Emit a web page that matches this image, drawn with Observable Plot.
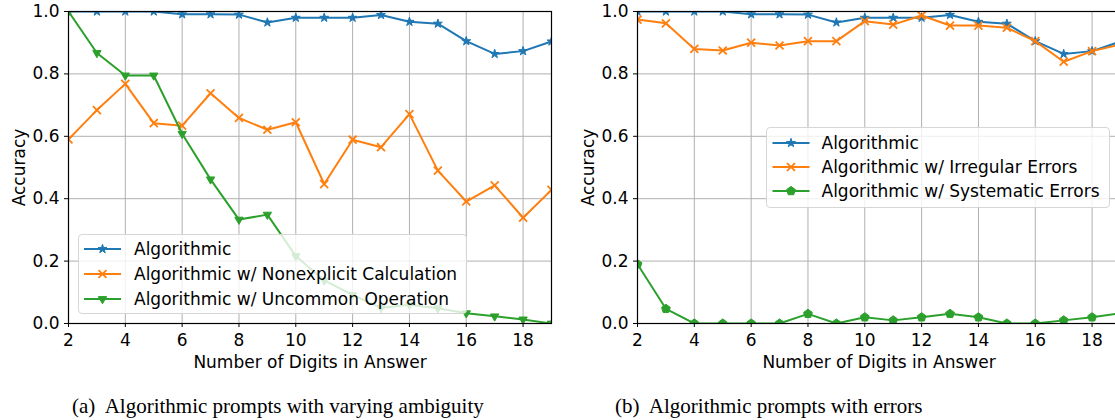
<!DOCTYPE html>
<html><head><meta charset="utf-8">
<script src="https://cdn.jsdelivr.net/npm/d3@7"></script>
<script src="https://cdn.jsdelivr.net/npm/@observablehq/plot@0.6"></script>
<style>
body{margin:0;width:1115px;height:420px;overflow:hidden;background:#fff;position:relative;font-family:"DejaVu Sans",sans-serif;}
.panel{position:absolute;top:0;width:560px;height:375px;}
.panel svg{max-width:none !important;}
.legend{position:absolute;background:rgba(255,255,255,0.8);border:1px solid #d6d6d6;border-radius:4px;font-size:17px;color:#000;box-sizing:border-box;}
.legend .row{position:absolute;left:0;height:24px;display:flex;align-items:center;white-space:nowrap;}
.legend svg{display:block;}
.caption{position:absolute;font-family:"Liberation Serif","Times New Roman",serif;font-size:21px;line-height:24px;white-space:pre;}
</style></head><body>
<div id="a" class="panel" style="left:0px"></div>
<div id="b" class="panel" style="left:569px"></div>
<script>
// ---- data ----
const digits = [2,3,4,5,6,7,8,9,10,11,12,13,14,15,16,17,18,19];
const xTicks = [2,4,6,8,10,12,14,16,18];
const yTicks = [0,0.2,0.4,0.6,0.8,1.0];
const algorithmic = [1.0,1.0,1.0,1.0,0.991,0.991,0.99,0.965,0.98,0.98,0.98,0.989,0.967,0.961,0.905,0.864,0.873,0.904];
const nonexplicit = [0.59,0.684,0.768,0.642,0.634,0.738,0.659,0.621,0.645,0.447,0.589,0.565,0.671,0.49,0.391,0.443,0.339,0.428];
const uncommon = [1.0,0.867,0.795,0.795,0.608,0.462,0.333,0.349,0.216,0.138,0.092,0.05,0.06,0.049,0.033,0.023,0.013,0.0];
const irregular = [0.974,0.962,0.88,0.875,0.9,0.891,0.905,0.905,0.969,0.958,0.987,0.955,0.955,0.948,0.905,0.839,0.873,0.894];
const systematic = [0.19,0.047,0,0,0,0,0.031,0,0.02,0.01,0.02,0.031,0.02,0,0,0.01,0.02,0.033];
const namesA = ["Algorithmic","Algorithmic w/ Nonexplicit Calculation","Algorithmic w/ Uncommon Operation"];
const namesB = ["Algorithmic","Algorithmic w/ Irregular Errors","Algorithmic w/ Systematic Errors"];
const captionA = "(a)  Algorithmic prompts with varying ambiguity";
const captionB = "(b)  Algorithmic prompts with errors";
const xLabel = "Number of Digits in Answer";
const yLabel = "Accuracy";

// ---- symbols ----
const triDown = {draw(ctx, size){ const r = Math.sqrt(size/Math.PI);
  ctx.moveTo(0, r); ctx.lineTo(-r*0.866, -r*0.5); ctx.lineTo(r*0.866, -r*0.5); ctx.closePath(); }};
const pentagon = {draw(ctx, size){ const r = Math.sqrt(size/Math.PI);
  for (let k=0;k<5;k++){ const a = -Math.PI/2 + k*2*Math.PI/5; const px=r*Math.cos(a), py=r*Math.sin(a);
    if(k===0) ctx.moveTo(px,py); else ctx.lineTo(px,py);} ctx.closePath(); }};
const blue="#1f77b4", orange="#ff7f0e", green="#2ca02c";
const styleA = [{color:blue, symbol:"star", r:2.8, fill:true},{color:orange, symbol:"times", r:3.7, fill:false},{color:green, symbol:triDown, r:4.8, fill:true}];
const styleB = [{color:blue, symbol:"star", r:2.8, fill:true},{color:orange, symbol:"times", r:3.7, fill:false},{color:green, symbol:pentagon, r:4.6, fill:true}];

function panel(seriesValues, names, styles, width){
  const marks = [
    Plot.gridX(xTicks, {stroke:"#b0b0b0", strokeOpacity:1, strokeWidth:1}),
    Plot.gridY(yTicks, {stroke:"#b0b0b0", strokeOpacity:1, strokeWidth:1})
  ];
  seriesValues.forEach((vals, si) => {
    const data = digits.map((d,i)=>({x:d, y:vals[i], name:names[si]}));
    const s = styles[si];
    marks.push(Plot.line(data, {x:"x", y:"y", stroke:s.color, strokeWidth:2, clip:true}));
    marks.push(Plot.dot(data, {x:"x", y:"y", symbol:s.symbol, r:s.r, clip:true,
      fill: s.fill ? s.color : "none", stroke: s.color, strokeWidth: s.fill ? 1 : 1.8}));
  });
  marks.push(Plot.frame({stroke:"#000", strokeWidth:1.2}));
  marks.push(Plot.axisX({ticks:xTicks, tickSize:4, tickPadding:6, fontSize:17, label:xLabel, labelAnchor:"center", labelOffset:44, labelArrow:false}));
  marks.push(Plot.axisY({ticks:yTicks, tickSize:4, tickPadding:5, fontSize:17, tickFormat:d3.format(".1f"), label:yLabel, labelAnchor:"center", labelOffset:56, labelArrow:false}));
  return Plot.plot({
    width, height:375, marginLeft:68, marginRight:width-68-483, marginTop:11, marginBottom:52,
    x:{domain:[2,19]}, y:{domain:[0,1]},
    style:{fontFamily:"DejaVu Sans", fontSize:"17px", color:"#000", background:"transparent", overflow:"visible"},
    marks
  });
}
document.getElementById("a").append(panel([algorithmic,nonexplicit,uncommon], namesA, styleA, 560));
document.getElementById("b").append(panel([algorithmic,irregular,systematic], namesB, styleB, 558));

function legend(names, styles, left, top, w, h, rowTops, textLeft, lineLeft){
  const div = document.createElement("div");
  div.className = "legend";
  Object.assign(div.style, {left:left+"px", top:top+"px", width:w+"px", height:h+"px"});
  names.forEach((n,i)=>{
    const s = styles[i];
    const row = document.createElement("div");
    row.className = "row";
    row.style.top = rowTops[i]+"px";
    const svg = d3.create("svg").attr("width", textLeft).attr("height", 24);
    svg.append("line").attr("x1", lineLeft).attr("x2", lineLeft+37).attr("y1",12).attr("y2",12).attr("stroke", s.color).attr("stroke-width",2);
    const type = s.symbol==="star" ? d3.symbolStar : s.symbol==="times" ? d3.symbolTimes : s.symbol;
    svg.append("path").attr("transform", `translate(${lineLeft+18.5},12)`)
      .attr("d", d3.symbol(type, Math.PI*s.r*s.r)())
      .attr("fill", s.fill ? s.color : "none").attr("stroke", s.color).attr("stroke-width", s.fill?1:1.8);
    row.append(svg.node());
    const t = document.createElement("span"); t.textContent = n; row.append(t);
    div.append(row);
  });
  document.body.append(div);
}
legend(namesA, styleA, 78, 234, 389, 80, [2, 27, 52], 55, 5);
legend(namesB, styleB, 766, 127, 344, 81, [2.5, 26.5, 51], 54.5, 5.5);

function caption(text, left, top){
  const d = document.createElement("div"); d.className="caption"; d.textContent=text;
  d.style.left = left+"px"; d.style.top = top+"px"; document.body.append(d);
}
caption(captionA, 72, 394);
caption(captionB, 615, 394);
</script>
</body></html>
